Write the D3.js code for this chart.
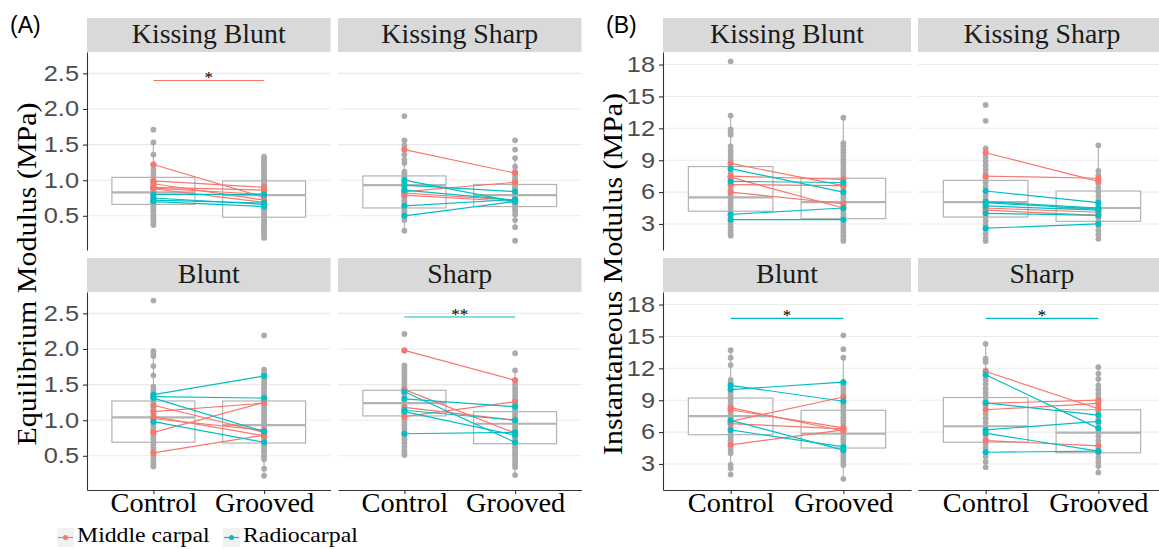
<!DOCTYPE html>
<html><head><meta charset="utf-8">
<script src="https://cdn.jsdelivr.net/npm/d3@7"></script>
<style>body{margin:0;background:#fff}svg{display:block}</style>
</head><body>
<svg id="c" width="1159" height="549"></svg>
<script>
// ---------------- DATA ----------------
const conditions = ["Control", "Grooved"];
const facets = ["Kissing Blunt", "Kissing Sharp", "Blunt", "Sharp"];
const series = ["Middle carpal", "Radiocarpal"];
const seriesColors = ["#F8766D", "#00BFC4"];
const eqTicks = [0.5, 1.0, 1.5, 2.0, 2.5];
const instTicks = [3, 6, 9, 12, 15, 18];

// Equilibrium modulus, raw (grey) points per facet: [Control, Grooved]
const eqKissingBlunt = [
  [1.71,1.53,1.36,1.22,1.15,1.10,1.05,1.00,0.97,0.93,0.90,0.87,0.84,0.82,0.80,0.78,0.76,0.74,0.72,0.70,0.68,0.66,0.63,0.60,0.57,0.54,0.50,0.47,0.44,0.40,0.37],
  [1.33,1.30,1.27,1.24,1.21,1.18,1.15,1.12,1.09,1.06,1.03,1.00,0.97,0.94,0.91,0.88,0.85,0.82,0.79,0.76,0.73,0.70,0.67,0.64,0.61,0.58,0.55,0.52,0.49,0.46,0.43,0.40,0.37,0.34,0.31,0.28,0.25,0.22,0.19]];
const eqKissingSharp = [
  [1.90,1.56,1.49,1.43,1.36,1.29,1.24,1.12,1.09,1.06,1.03,1.00,0.97,0.94,0.91,0.88,0.85,0.82,0.79,0.76,0.73,0.70,0.67,0.64,0.61,0.58,0.55,0.52,0.48,0.44,0.29],
  [1.56,1.43,1.31,1.19,1.12,1.08,1.04,1.00,0.97,0.94,0.91,0.88,0.85,0.82,0.79,0.76,0.73,0.70,0.67,0.64,0.61,0.57,0.52,0.44,0.34,0.15]];
const eqBlunt = [
  [2.68,1.97,1.93,1.90,1.76,1.63,1.47,1.42,1.38,1.34,1.30,1.26,1.22,1.18,1.14,1.10,1.06,1.02,0.98,0.94,0.90,0.86,0.82,0.78,0.74,0.70,0.66,0.62,0.58,0.54,0.50,0.46,0.42,0.38,0.35],
  [2.19,1.71,1.66,1.62,1.57,1.53,1.49,1.45,1.41,1.37,1.33,1.29,1.25,1.21,1.17,1.13,1.09,1.05,1.01,0.97,0.93,0.89,0.85,0.81,0.77,0.73,0.69,0.65,0.61,0.57,0.53,0.49,0.45,0.32,0.22]];
const eqSharp = [
  [2.21,1.98,1.77,1.73,1.69,1.65,1.61,1.57,1.53,1.49,1.45,1.41,1.37,1.33,1.29,1.25,1.21,1.17,1.13,1.09,1.05,1.01,0.97,0.93,0.88,0.83,0.78,0.73,0.68,0.63,0.58,0.54,0.51],
  [1.94,1.70,1.56,1.50,1.45,1.40,1.35,1.30,1.26,1.22,1.18,1.14,1.10,1.06,1.02,0.98,0.94,0.90,0.86,0.82,0.78,0.74,0.70,0.66,0.62,0.58,0.54,0.50,0.46,0.42,0.38,0.34,0.23]];

// Boxplot stats [lower whisker, Q1, median, Q3, upper whisker] per facet: [Control, Grooved]
const eqBoxes = [
  [[0.37,0.66,0.83,1.04,1.53],[0.19,0.48,0.79,0.99,1.33]],
  [[0.29,0.61,0.93,1.06,1.56],[0.34,0.63,0.79,0.94,1.31]],
  [[0.35,0.69,1.04,1.27,1.97],[0.22,0.68,0.93,1.27,1.71]],
  [[0.54,1.06,1.24,1.42,1.77],[0.23,0.67,0.95,1.12,1.70]]];

// Paired specimen means [Control, Grooved]
const eqMiddle = [
  [[1.22,0.76],[0.99,0.90],[0.95,0.72],[0.90,0.86],[0.88,0.69],[0.89,0.80]],
  [[1.43,1.10],[0.84,0.97],[0.82,0.72],[0.79,0.70]],
  [[1.21,0.83],[1.12,1.24],[1.05,0.78],[1.02,0.86],[0.83,1.25],[0.54,0.79]],
  [[1.98,1.56],[1.43,0.82],[1.18,1.00],[1.05,1.26]]];
const eqRadio = [
  [[0.80,0.80],[0.75,0.66],[0.70,0.63],[0.72,0.68]],
  [[1.00,0.70],[0.93,0.84],[0.86,0.72],[0.64,0.73],[0.50,0.70]],
  [[1.36,1.62],[1.33,1.31],[1.31,0.84],[0.98,0.69]],
  [[1.40,0.69],[1.30,1.19],[1.14,1.00],[1.12,0.79],[0.81,0.83]]];
// significance: [facet index, series index, y value, label]
const eqSig = [[0, 0, 2.40, "*"], [3, 1, 2.45, "**"]];

// Instantaneous modulus
const instKissingBlunt = [
  [18.3,13.2,11.9,11.6,11.4,10.3,9.9,9.6,9.3,9.0,8.7,8.4,8.1,7.8,7.5,7.2,6.9,6.6,6.3,6.0,5.7,5.4,5.1,4.8,4.5,4.2,3.9,3.6,3.3,3.0,2.7,2.4,2.1,1.9],
  [13.0,10.6,10.3,10.0,9.7,9.4,9.1,8.8,8.5,8.2,7.9,7.6,7.3,7.0,6.7,6.4,6.1,5.8,5.5,5.2,4.9,4.6,4.3,4.0,3.7,3.4,3.1,2.8,2.5,2.2,1.9,1.6,1.4]];
const instKissingSharp = [
  [14.2,12.7,10.1,9.7,9.3,8.9,8.5,8.1,7.7,7.3,6.9,6.5,6.1,5.7,5.3,4.9,4.5,4.1,3.7,3.3,2.9,2.5,2.1,1.7,1.4],
  [10.4,8.0,7.6,7.2,6.8,6.4,6.0,5.6,5.2,4.8,4.4,4.0,3.6,3.2,2.8,2.4,2.0,1.6]];
const instBlunt = [
  [13.7,13.0,12.3,10.9,10.6,10.3,10.0,9.7,9.4,9.1,8.8,8.5,8.2,7.9,7.6,7.3,7.0,6.7,6.4,6.1,5.8,5.5,5.2,4.9,4.6,4.3,4.0,2.9,2.6,2.0],
  [15.1,13.8,13.0,10.7,10.4,10.1,9.8,9.5,9.2,8.9,8.6,8.3,8.0,7.7,7.4,7.1,6.8,6.5,6.2,5.9,5.6,5.3,5.0,4.7,4.4,4.1,3.8,3.5,3.2,2.9,1.6]];
const instSharp = [
  [14.3,12.9,12.6,11.8,11.3,10.9,10.5,10.1,9.7,9.3,8.9,8.5,8.1,7.7,7.3,6.9,6.5,6.1,5.7,5.3,4.9,4.5,4.1,3.7,3.2,2.7],
  [12.1,11.5,11.0,10.4,10.0,9.6,9.2,8.8,8.4,8.0,7.6,7.2,6.8,6.4,6.0,5.6,5.2,4.8,4.4,4.0,3.6,3.2,2.8,2.2]];
const instBoxes = [
  [[1.9,4.2,5.5,8.4,13.2],[1.4,3.5,5.05,7.3,13.0]],
  [[1.4,3.65,5.05,7.1,10.1],[1.6,3.25,4.5,6.1,10.4]],
  [[2.0,5.75,7.5,9.2,13.7],[1.6,4.5,5.85,8.05,13.0]],
  [[2.7,5.05,6.55,9.25,14.3],[2.2,4.05,5.95,8.1,12.1]]];
const instMiddle = [
  [[8.7,6.6],[7.5,7.2],[7.4,4.5],[6.7,6.6],[6.0,4.9]],
  [[9.7,7.0],[7.5,7.3],[4.5,4.1],[4.3,3.8]],
  [[8.3,6.1],[8.1,6.4],[7.0,9.3],[6.8,6.3],[4.8,6.2]],
  [[11.7,8.2],[8.7,9.0],[8.1,8.7],[5.2,4.7]]];
const instRadio = [
  [[8.2,6.0],[7.0,6.9],[3.9,4.5],[3.4,3.4]],
  [[6.1,5.0],[5.1,4.5],[5.0,4.4],[4.7,4.3],[4.0,3.8],[2.6,3.0]],
  [[10.4,8.9],[10.0,10.7],[7.1,4.3],[6.2,4.6]],
  [[11.4,6.35],[8.75,7.6],[6.2,7.0],[5.9,4.2],[4.1,4.2]]];
const instSig = [[2, 1, 16.7, "*"], [3, 1, 16.7, "*"]];

// ---------------- DRAWING ----------------
const svg = d3.select("#c");
const SERIF = "'Liberation Serif', 'Times New Roman', serif";
const SANS = "'Liberation Sans', Arial, sans-serif";

function stretch(sel, f) {
  sel.each(function () {
    const l = this.getComputedTextLength();
    this.setAttribute("textLength", l * f);
    this.setAttribute("lengthAdjust", "spacingAndGlyphs");
  });
}

const figs = [
  { gray: [eqKissingBlunt, eqKissingSharp, eqBlunt, eqSharp], boxes: eqBoxes, pairs: [eqMiddle, eqRadio],
    sig: eqSig, ticks: eqTicks, fmt: d3.format(".1f"), domain: [0.02, 2.8],
    lefts: [87, 338], width: 243.5, title: "Equilibrium Modulus (MPa)", titleX: 35.5, titleLen: 343,
    tag: "(A)", tagX: 10 },
  { gray: [instKissingBlunt, instKissingSharp, instBlunt, instSharp], boxes: instBoxes, pairs: [instMiddle, instRadio],
    sig: instSig, ticks: instTicks, fmt: d3.format("d"), domain: [0.55, 19.18],
    lefts: [663, 918], width: 248, title: "Instantaneous Modulus (MPa)", titleX: 621.5, titleLen: 362,
    tag: "(B)", tagX: 606 }
];
const tops = [52, 292], panelH = 198, stripH = 34;

figs.forEach(fig => {
  facets.forEach((facet, i) => {
    const col = i % 2, row = Math.floor(i / 2);
    const left = fig.lefts[col], top = tops[row];
    const x = d3.scalePoint().domain(conditions).range([left, left + fig.width]).padding(0.6);
    const y = d3.scaleLinear().domain(fig.domain).range([top + panelH, top]);
    const g = svg.append("g");

    // strip
    g.append("rect").attr("x", left).attr("y", top - stripH).attr("width", fig.width).attr("height", stripH)
      .attr("fill", "#d9d9d9");
    g.append("text").attr("x", left + fig.width / 2).attr("y", top - 9).attr("text-anchor", "middle")
      .attr("font-family", SERIF).attr("font-size", 27).attr("fill", "#1a1a1a").text(facet)
      .call(stretch, 1.03);

    // grid
    g.selectAll(".grid").data(fig.ticks).join("line")
      .attr("x1", left).attr("x2", left + fig.width)
      .attr("y1", d => y(d)).attr("y2", d => y(d))
      .attr("stroke", "#ebebeb").attr("stroke-width", 1.1);

    // boxplots
    const bw = x.step() * 0.75;
    conditions.forEach((c, j) => {
      const b = fig.boxes[i][j], cx = x(c);
      g.append("line").attr("x1", cx).attr("x2", cx).attr("y1", y(b[0])).attr("y2", y(b[1]))
        .attr("stroke", "#b3b3b3").attr("stroke-width", 1.2);
      g.append("line").attr("x1", cx).attr("x2", cx).attr("y1", y(b[3])).attr("y2", y(b[4]))
        .attr("stroke", "#b3b3b3").attr("stroke-width", 1.2);
      g.append("rect").attr("x", cx - bw / 2).attr("y", y(b[3])).attr("width", bw).attr("height", y(b[1]) - y(b[3]))
        .attr("fill", "#fff").attr("stroke", "#b3b3b3").attr("stroke-width", 1.2);
      g.append("line").attr("x1", cx - bw / 2).attr("x2", cx + bw / 2).attr("y1", y(b[2])).attr("y2", y(b[2]))
        .attr("stroke", "#b3b3b3").attr("stroke-width", 2.2);
    });

    // grey raw points
    conditions.forEach((c, j) => {
      g.selectAll(null).data(fig.gray[i][j]).join("circle")
        .attr("cx", x(c)).attr("cy", d => y(d)).attr("r", 2.9).attr("fill", "#ababab");
    });

    // paired lines
    fig.pairs.forEach((set, s) => {
      const col = seriesColors[s];
      g.selectAll(null).data(set[i]).join("line")
        .attr("x1", x("Control")).attr("x2", x("Grooved"))
        .attr("y1", d => y(d[0])).attr("y2", d => y(d[1]))
        .attr("stroke", col).attr("stroke-width", 1.2);
    });
    fig.pairs.forEach((set, s) => {
      const col = seriesColors[s];
      set[i].forEach(d => {
        conditions.forEach((c, j) => {
          g.append("circle").attr("cx", x(c)).attr("cy", y(d[j])).attr("r", 3).attr("fill", col);
        });
      });
    });

    // significance
    fig.sig.filter(s => s[0] === i).forEach(s => {
      const yy = y(s[2]);
      g.append("line").attr("x1", x("Control")).attr("x2", x("Grooved")).attr("y1", yy).attr("y2", yy)
        .attr("stroke", seriesColors[s[1]]).attr("stroke-width", 1.1);
      g.append("text").attr("x", (x("Control") + x("Grooved")) / 2).attr("y", yy + 3)
        .attr("text-anchor", "middle").attr("font-family", SERIF).attr("font-size", 17).text(s[3]);
    });

    // axes
    if (col === 0) {
      const ax = g.append("g").attr("transform", `translate(${left},0)`)
        .call(d3.axisLeft(y).tickValues(fig.ticks).tickFormat(fig.fmt).tickSize(4).tickSizeOuter(0).tickPadding(4));
      ax.select(".domain").attr("stroke", "#333").attr("stroke-width", 1.1);
      ax.selectAll(".tick line").attr("stroke", "#333").attr("stroke-width", 1.1);
      ax.selectAll("text").attr("font-family", SANS).attr("font-size", 21.5).attr("fill", "#4d4d4d")
        .call(stretch, 1.18);
    }
    if (row === 1) {
      const ax = g.append("g").attr("transform", `translate(0,${top + panelH})`)
        .call(d3.axisBottom(x).tickSize(4).tickSizeOuter(0));
      ax.select(".domain").attr("stroke", "#333").attr("stroke-width", 1.1);
      ax.selectAll(".tick line").attr("stroke", "#333").attr("stroke-width", 1.1);
      ax.selectAll("text").attr("font-family", SERIF).attr("font-size", 27).attr("fill", "#000")
        .attr("y", 22).attr("dy", 0).call(stretch, 1.05);
    }
  });

  // y title
  svg.append("text").attr("transform", `translate(${fig.titleX},274) rotate(-90)`).attr("text-anchor", "middle")
    .attr("font-family", SERIF).attr("font-size", 27).attr("fill", "#000").text(fig.title)
    .attr("textLength", fig.titleLen).attr("lengthAdjust", "spacingAndGlyphs");
  // tag
  svg.append("text").attr("x", fig.tagX).attr("y", 33).attr("font-family", SANS).attr("font-size", 23)
    .attr("fill", "#000").text(fig.tag);
});

// legend
const legX = [57, 223];
series.forEach((s, k) => {
  const lg = svg.append("g").attr("transform", `translate(${legX[k]},528)`);
  lg.append("rect").attr("width", 17).attr("height", 19).attr("fill", "#f2f2f2");
  lg.append("line").attr("x1", 1).attr("x2", 16).attr("y1", 9.5).attr("y2", 9.5)
    .attr("stroke", seriesColors[k]).attr("stroke-width", 1.2);
  lg.append("circle").attr("cx", 8.5).attr("cy", 9.5).attr("r", 2.5).attr("fill", seriesColors[k]);
  lg.append("text").attr("x", 20).attr("y", 14).attr("font-family", SERIF).attr("font-size", 22)
    .attr("fill", "#000").text(s).call(stretch, 1.08);
});
</script>
</body></html>
